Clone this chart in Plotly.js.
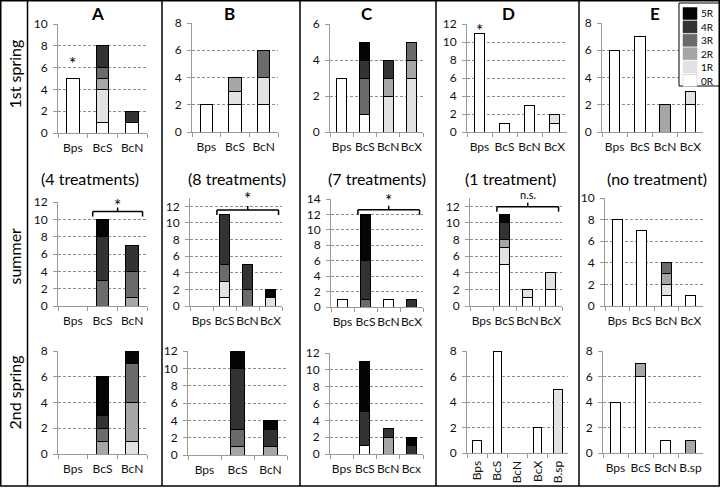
<!DOCTYPE html>
<html>
<head>
<meta charset="utf-8">
<script src="https://cdn.plot.ly/plotly-3.0.1.min.js"></script>
<style>
html,body{margin:0;padding:0;background:#fff;}
#chart{width:720px;height:488px;}
</style>
</head>
<body>
<div id="chart"></div>
<script>
// ---------- data ----------
const levels = ['0R','1R','2R','3R','4R','5R'];
const levelColors = ['#ffffff','#e2e2e2','#a6a6a6','#6b6b6b','#333333','#050505'];
const rowLabels = ['1st spring','summer','2nd spring'];
const colTitles = ['A','B','C','D','E'];
const summerNotes = ['(4 treatments)','(8 treatments)','(7 treatments)','(1 treatment)','(no treatment)'];

const catsABC = ['Bps','BcS','BcN'];
const cats4 = ['Bps','BcS','BcN','BcX'];
const cats4x = ['Bps','BcS','BcN','Bcx'];
const cats5 = ['Bps','BcS','BcN','BcX','B.sp'];
const catsE3 = ['Bps','BcS','BcN','B.sp'];

// rows: 0R,1R,2R,3R,4R,5R ; columns: categories
const spring1_A = [[5,1,1],[0,3,0],[0,1,0],[0,1,0],[0,2,1],[0,0,0]];
const spring1_B = [[2,2,2],[0,1,2],[0,1,0],[0,0,2],[0,0,0],[0,0,0]];
const spring1_C = [[3,1,0,0],[0,0,2,3],[0,0,1,1],[0,2,0,1],[0,1,1,0],[0,1,0,0]];
const spring1_D = [[11,1,3,1],[0,0,0,1],[0,0,0,0],[0,0,0,0],[0,0,0,0],[0,0,0,0]];
const spring1_E = [[6,7,0,2],[0,0,0,1],[0,0,2,0],[0,0,0,0],[0,0,0,0],[0,0,0,0]];

const summer_A = [[0,0,0],[0,0,0],[0,0,1],[0,3,3],[0,5,3],[0,2,0]];
const summer_B = [[0,1,0,0],[0,2,0,1],[0,0,0,0],[0,2,2,0],[0,6,3,0],[0,0,0,1]];
const summer_C = [[1,0,1,0],[0,0,0,0],[0,0,0,0],[0,1,0,0],[0,5,0,1],[0,6,0,0]];
const summer_D = [[0,5,1,2],[0,2,1,2],[0,1,0,0],[0,0,0,0],[0,2,0,0],[0,1,0,0]];
const summer_E = [[8,7,1,1],[0,0,1,0],[0,0,1,0],[0,0,1,0],[0,0,0,0],[0,0,0,0]];

const spring2_A = [[0,0,0],[0,0,1],[0,1,3],[0,1,3],[0,1,0],[0,3,1]];
const spring2_B = [[0,0,0],[0,0,0],[0,1,1],[0,2,0],[0,7,2],[0,2,1]];
const spring2_C = [[0,1,0,0],[0,0,0,0],[0,0,2,0],[0,0,0,0],[0,4,1,1],[0,6,0,1]];
const spring2_D = [[1,8,0,2,0],[0,0,0,0,5],[0,0,0,0,0],[0,0,0,0,0],[0,0,0,0,0],[0,0,0,0,0]];
const spring2_E = [[4,6,1,0],[0,0,0,0],[0,1,0,1],[0,0,0,0],[0,0,0,0],[0,0,0,0]];

const yMax = [[10,8,6,12,8],[12,13,14,13,10],[8,12,12,8,8]];

const starMarks = [{panel:'A1', cat:'Bps'},{panel:'D1', cat:'Bps'}];
const brackets = [
  {panel:'A2', from:'BcS', to:'BcN', level:10.9, label:'*'},
  {panel:'B2', from:'BcS', to:'BcX', level:11.55, label:'*'},
  {panel:'C2', from:'BcS', to:'BcX', level:12.6, label:'*'},
  {panel:'D2', from:'BcS', to:'BcX', level:11.96, label:'n.s.'}
];

// ---------- layout geometry (pixels) ----------
const W = 720, H = 488;
const FONT = 'Lato, "Open Sans", sans-serif';
const boxes = {
  A1:[58,147,24,133], B1:[192,278,23,132], C1:[330,423,24,132], D1:[467,567,24,132], E1:[602,703,23,132],
  A2:[58,147,202,306], B2:[190,282,198,306], C2:[331,423,199,307], D2:[470,562,198,306], E2:[605,703,198,306],
  A3:[58,147,351,454], B3:[188,287,351,455], C3:[330,423,353,454], D3:[467,568,351,453], E3:[603,703,351,453]
};
const starShift = {A1:3, D1:-10, A2:-6, B2:-1, C2:-3, D2:4};
const panelData = {
  A1:[catsABC,spring1_A], B1:[catsABC,spring1_B], C1:[cats4,spring1_C], D1:[cats4,spring1_D], E1:[cats4,spring1_E],
  A2:[catsABC,summer_A], B2:[cats4,summer_B], C2:[cats4,summer_C], D2:[cats4,summer_D], E2:[cats4,summer_E],
  A3:[catsABC,spring2_A], B3:[catsABC,spring2_B], C3:[cats4x,spring2_C], D3:[cats5,spring2_D], E3:[catsE3,spring2_E]
};

const px = x => x / W;
const py = y => 1 - y / H;

const traces = [];
const layout = {
  width: W, height: H,
  margin: {l:0, r:0, t:0, b:0},
  paper_bgcolor: '#fff', plot_bgcolor: 'rgba(0,0,0,0)',
  barmode: 'stack', bargap: 0.58,
  showlegend: false,
  font: {family: FONT, size: 12, color: '#111'},
  shapes: [], annotations: []
};

const axisRef = {};
const cols = ['A','B','C','D','E'];
let k = 0;
for (let r = 0; r < 3; r++) {
  for (let c = 0; c < 5; c++) {
    const id = cols[c] + (r + 1);
    const [cats, data] = panelData[id];
    const b = boxes[id];
    const n = k === 0 ? '' : String(k + 1);
    const xa = 'x' + n, ya = 'y' + n;
    axisRef[id] = {xa, ya, cats, data};
    for (let lv = 0; lv < levels.length; lv++) {
      traces.push({
        type: 'bar', x: cats, y: data[lv].map(v => v === 0 ? null : v),
        name: levels[lv], xaxis: xa, yaxis: ya,
        marker: {color: levelColors[lv], line: {color: '#000', width: 1}},
        hoverinfo: 'skip', showlegend: false
      });
    }
    const rotate = id === 'D3';
    layout['xaxis' + n] = {
      domain: [px(b[0]), px(b[1])], anchor: ya, type: 'category',
      range: [-0.5, cats.length - 0.5], fixedrange: true,
      showline: true, linecolor: '#9a9a9a', linewidth: 1,
      ticks: 'outside', tickson: 'boundaries', ticklen: 4, tickcolor: '#9a9a9a',
      showgrid: false, zeroline: false,
      tickangle: rotate ? -90 : 0, ticklabelstandoff: rotate ? 2 : 4,
      tickfont: {family: FONT, size: 12, color: '#111'}
    };
    layout['yaxis' + n] = {
      domain: [py(b[3]), py(b[2])], anchor: xa,
      range: [0, yMax[r][c]], tick0: 0, dtick: 2, fixedrange: true,
      showline: true, linecolor: '#9a9a9a', linewidth: 1,
      ticks: 'outside', ticklen: 4, tickcolor: '#9a9a9a',
      showgrid: true, gridcolor: '#8f8f8f', gridwidth: 1, griddash: '3px,2px',
      zeroline: false, ticklabelstandoff: 3,
      tickfont: {family: FONT, size: 12, color: '#111'}
    };
    k++;
  }
}

const barTotal = (a, cat) => {
  const i = a.cats.indexOf(cat);
  return a.data.reduce((s, row) => s + row[i], 0);
};

// significance stars above single bars
starMarks.forEach(s => {
  const a = axisRef[s.panel];
  layout.annotations.push({xref: a.xa, yref: a.ya, x: a.cats.indexOf(s.cat), y: barTotal(a, s.cat),
    text: '*', showarrow: false, xanchor: 'center', yanchor: 'bottom', yshift: starShift[s.panel],
    font: {size: 17, color: '#000'}});
});

// brackets
brackets.forEach(bk => {
  const a = axisRef[bk.panel];
  const x0 = a.cats.indexOf(bk.from) - 0.33;
  const x1 = a.cats.indexOf(bk.to) + 0.35;
  const xm = (x0 + x1) / 2;
  const ln = {color: '#000', width: 1.5};
  layout.shapes.push({type:'line', xref:a.xa, yref:a.ya, x0:x0, x1:x1, y0:bk.level, y1:bk.level, line:ln});
  [x0, x1].forEach(xx => layout.shapes.push({type:'line', xref:a.xa, yref:a.ya, ysizemode:'pixel', yanchor:bk.level,
    x0:xx, x1:xx, y0:0, y1:-5, line:ln}));
  layout.shapes.push({type:'line', xref:a.xa, yref:a.ya, ysizemode:'pixel', yanchor:bk.level,
    x0:xm, x1:xm, y0:0, y1:4, line:ln});
  const isStar = bk.label === '*';
  layout.annotations.push({xref:a.xa, yref:a.ya, x:xm, y:bk.level, text:bk.label, showarrow:false,
    xanchor:'center', yanchor:'bottom', yshift: starShift[bk.panel], font:{size: isStar ? 17 : 11, color:'#000'}});
});

// frame lines
const frameLine = {color:'#000', width:1.5};
layout.shapes.push({type:'rect', xref:'paper', yref:'paper', x0:px(0.75), x1:px(719.25), y0:py(486), y1:py(0.75), line:frameLine, layer:'above'});
[27.5, 162, 300, 436, 579].forEach(xx => layout.shapes.push({type:'line', xref:'paper', yref:'paper',
  x0:px(xx), x1:px(xx), y0:py(486), y1:py(0.75), line:frameLine, layer:'above'}));

// row labels
const rowCenters = [74, 256, 393];
rowLabels.forEach((t, i) => layout.annotations.push({xref:'paper', yref:'paper', x:px(13.5), y:py(rowCenters[i]),
  xanchor:'center', yanchor:'middle', text:t, textangle:-90, showarrow:false, font:{size:16, color:'#000'}}));

// column titles
const titleX = [97, 230, 367, 508, 655];
colTitles.forEach((t, i) => layout.annotations.push({xref:'paper', yref:'paper', x:px(titleX[i]), y:py(13),
  xanchor:'center', yanchor:'middle', text:'<b>' + t + '</b>', showarrow:false, font:{size:17, color:'#000'}}));

// summer notes
const noteX = [90, 237, 377, 510, 657];
summerNotes.forEach((t, i) => layout.annotations.push({xref:'paper', yref:'paper', x:px(noteX[i]), y:py(178),
  xanchor:'center', yanchor:'middle', text:t, showarrow:false, font:{size:16, color:'#000'}}));

// legend (5R on top)
layout.shapes.push({type:'rect', xref:'paper', yref:'paper', x0:px(679), x1:px(719), y0:py(86), y1:py(3),
  fillcolor:'#fff', line:{color:'#000', width:1}, layer:'above'});
for (let lv = levels.length - 1; lv >= 0; lv--) {
  const row = levels.length - 1 - lv;
  const yc = 13.5 + row * 13.4;
  layout.shapes.push({type:'rect', xref:'paper', yref:'paper', x0:px(683), x1:px(697), y0:py(yc + 6), y1:py(yc - 6),
    fillcolor: levelColors[lv], line:{color: lv === 0 ? '#bbb' : levelColors[lv], width:0.5}, layer:'above'});
  layout.annotations.push({xref:'paper', yref:'paper', x:px(699), y:py(yc), xanchor:'left', yanchor:'middle', text:levels[lv],
    showarrow:false, font:{size:10, color:'#000'}});
}

Plotly.newPlot('chart', traces, layout, {staticPlot:true, displayModeBar:false});
</script>
</body>
</html>
